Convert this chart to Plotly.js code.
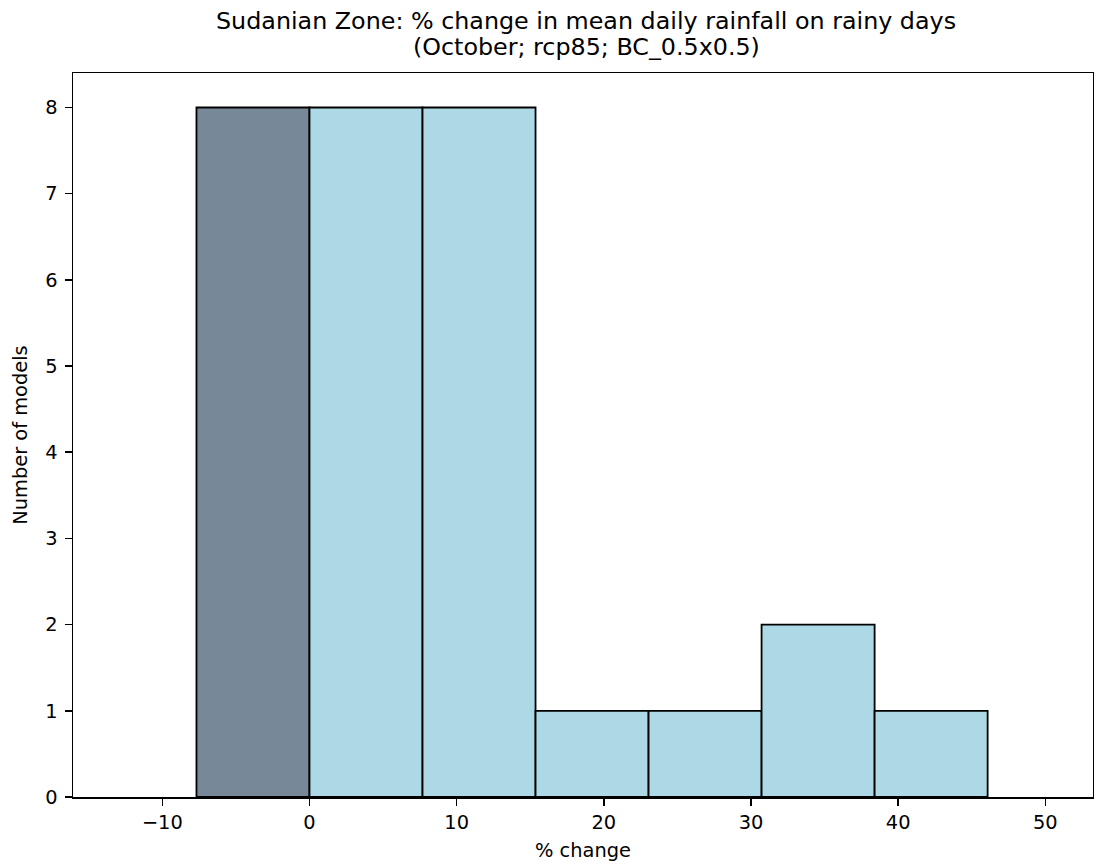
<!DOCTYPE html>
<html>
<head>
<meta charset="utf-8">
<script src="https://cdn.plot.ly/plotly-3.0.1.min.js"></script>
<style>html,body{margin:0;padding:0;background:#fff;}</style>
</head>
<body>
<div id="chart" style="width:1094px;height:865px;"></div>
<script>
// Histogram bin edges (% change) and model counts per bin
const binEdges = [-7.68, 0, 7.68, 15.36, 23.04, 30.72, 38.40, 46.08];
const counts = [8, 8, 8, 1, 1, 2, 1];
const binColors = ['#778899', '#ADD8E6', '#ADD8E6', '#ADD8E6', '#ADD8E6', '#ADD8E6', '#ADD8E6'];
const xTicks = [-10, 0, 10, 20, 30, 40, 50];
const xTickLabels = ['\u221210', '0', '10', '20', '30', '40', '50'];
const yTicks = [0, 1, 2, 3, 4, 5, 6, 7, 8];
const titleLines = ['Sudanian Zone: % change in mean daily rainfall on rainy days', '(October; rcp85; BC_0.5x0.5)'];

const centers = counts.map((c, i) => (binEdges[i] + binEdges[i + 1]) / 2);
const widths = counts.map((c, i) => binEdges[i + 1] - binEdges[i]);

const font = 'DejaVu Sans, sans-serif';

const trace = {
  type: 'bar',
  x: centers,
  y: counts,
  width: widths,
  marker: { color: binColors, line: { color: '#000', width: 1.8 } },
  hoverinfo: 'skip'
};

const layout = {
  width: 1094,
  height: 865,
  margin: { l: 73, r: 1, t: 73, b: 68 },
  paper_bgcolor: '#fff',
  plot_bgcolor: '#fff',
  showlegend: false,
  font: { family: font, size: 19.4, color: '#000' },
  annotations: [
    { text: titleLines[0], xref: 'paper', yref: 'paper', x: 0.503, y: 1.0718, xanchor: 'center', yanchor: 'middle',
      showarrow: false, font: { family: font, size: 23.8, color: '#000' } },
    { text: titleLines[1], xref: 'paper', yref: 'paper', x: 0.503, y: 1.0359, xanchor: 'center', yanchor: 'middle',
      showarrow: false, font: { family: font, size: 23.8, color: '#000' } }
  ],
  xaxis: {
    range: [-16.07, 53.24],
    tickmode: 'array', tickvals: xTicks, ticktext: xTickLabels,
    ticks: 'outside', ticklen: 7, tickwidth: 1.5, tickcolor: '#000',
    showline: true, linecolor: '#000', linewidth: 1.5, mirror: true,
    showgrid: false, zeroline: false,
    tickfont: { family: font, size: 19.4, color: '#000' },
    title: { text: '% change', font: { family: font, size: 19.4, color: '#000' }, standoff: 10 }
  },
  yaxis: {
    range: [0, 8.4],
    tickmode: 'array', tickvals: yTicks,
    ticks: 'outside', ticklen: 7, tickwidth: 1.5, tickcolor: '#000',
    showline: true, linecolor: '#000', linewidth: 1.5, mirror: true,
    showgrid: false, zeroline: false,
    ticklabelstandoff: 3,
    tickfont: { family: font, size: 19.4, color: '#000' },
    title: { text: 'Number of models', font: { family: font, size: 19.4, color: '#000' }, standoff: 12 }
  },
  bargap: 0
};

Plotly.newPlot('chart', [trace], layout, { displayModeBar: false, staticPlot: true });
</script>
</body>
</html>
